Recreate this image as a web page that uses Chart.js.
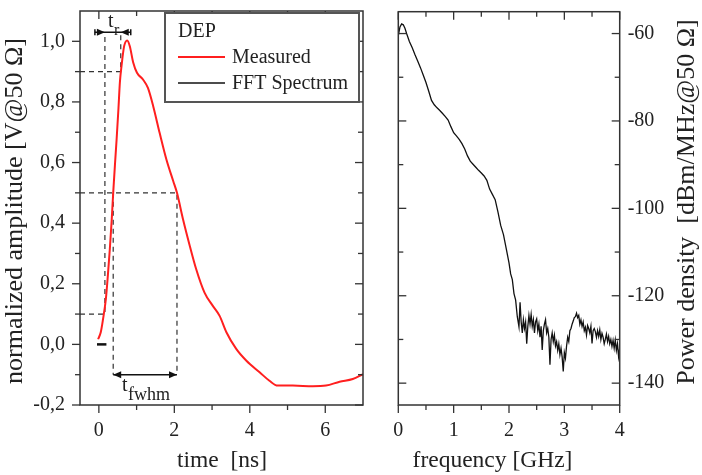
<!DOCTYPE html>
<html>
<head>
<meta charset="utf-8">
<script src="https://cdn.jsdelivr.net/npm/chart.js@4.4.0/dist/chart.umd.min.js"></script>
<style>
html,body{margin:0;padding:0;background:#fff;}
#wrap{position:relative;width:702px;height:475px;}
canvas{position:absolute;top:0;}
#c1{left:0;}
#c2{left:372px;}
</style>
</head>
<body>
<div id="wrap">
<canvas id="c1" width="372" height="475"></canvas>
<canvas id="c2" width="330" height="475"></canvas>
</div>
<script>
// time domain pulse (left panel)
let timeNs    = [-0.02,0.05,0.11,0.185,0.24,0.29,0.34,0.38,0.43,0.47,0.52,0.556,0.60,0.67,0.75,0.82,0.91,1.01,1.17,1.30,1.44,1.61,1.79,1.97,2.07,2.23,2.41,2.58,2.80,3.02,3.20,3.38,3.64,3.91,4.26,4.52,4.74,5.14,5.67,6.02,6.38,6.73,7.00];
let amplitude = [0.017,0.04,0.083,0.149,0.23,0.314,0.41,0.50,0.60,0.676,0.78,0.863,0.918,0.984,1.003,0.984,0.93,0.896,0.874,0.846,0.786,0.698,0.61,0.539,0.50,0.413,0.325,0.248,0.171,0.127,0.094,0.04,-0.015,-0.054,-0.092,-0.12,-0.136,-0.136,-0.138,-0.136,-0.123,-0.114,-0.098];
let timeTicks = [0,2,4,6];
let timeMinor = [1,3,5];
let ampTicks  = [-0.2,0,0.2,0.4,0.6,0.8,1.0];
let ampMinor  = [-0.1,0.1,0.3,0.5,0.7,0.9];

// FFT spectrum (right panel)
let freqGHz = [0,0.03,0.06,0.09,0.12,0.15,0.20,0.25,0.30,0.35,0.40,0.45,0.50,0.55,0.60,0.65,0.70,0.75,0.80,0.85,0.90,0.95,1.00,1.05,1.10,1.15,1.20,1.25,1.30,1.35,1.40,1.45,1.50,1.55,1.60,1.65,1.70,1.75,1.80,1.85,1.90,1.95,2.00,2.03,2.06,2.09,2.12,2.15,2.18,
  2.20,2.22,2.24,2.26,2.28,2.30,2.32,2.34,2.36,2.38,2.40,2.42,2.44,2.46,2.48,2.50,2.52,2.54,2.56,2.58,2.60,2.62,2.64,2.66,2.68,2.70,2.72,2.74,2.76,2.78,2.80,2.82,2.84,2.86,2.88,2.90,2.92,2.94,2.96,2.98,3.00,3.02,3.04,3.06,3.08,3.10,3.12,3.14,3.16,3.18,3.20,3.22,3.24,3.26,3.28,3.30,3.32,3.34,3.36,3.38,3.40,3.42,3.44,3.46,3.48,3.50,3.52,3.54,3.56,3.58,3.60,3.62,3.64,3.66,3.68,3.70,3.72,3.74,3.76,3.78,3.80,3.82,3.84,3.86,3.88,3.90,3.92,3.94,3.96,3.98,4.00];
let powerDb = [-60.5,-58.5,-57.8,-58.0,-58.8,-60.0,-61.8,-63.2,-64.8,-66.3,-67.8,-69.5,-71.2,-73.2,-75.3,-76.3,-77.0,-77.6,-78.3,-79.0,-79.8,-81.3,-82.7,-83.4,-84.2,-85.2,-86.4,-88.0,-89.2,-89.9,-90.6,-91.3,-91.9,-92.6,-93.6,-95.6,-96.8,-98.0,-100.8,-103.9,-106.0,-109.2,-112.5,-115.0,-116.3,-119.5,-121.0,-124.8,-127.1,
  -121.5,-126.0,-128.5,-125.5,-127.5,-126.0,-131.0,-127.0,-124.5,-126.5,-124.3,-127.0,-125.5,-128.5,-126.0,-125.3,-128.0,-126.5,-129.5,-127.0,-132.4,-128.0,-126.5,-125.5,-128.5,-127.5,-129.5,-135.8,-130.0,-128.5,-130.5,-129.0,-131.5,-130.5,-132.5,-131.0,-133.5,-132.0,-134.0,-137.3,-133.0,-134.3,-131.5,-129.5,-130.5,-128.0,-127.5,-126.5,-125.8,-125.0,-124.8,-124.0,-125.0,-124.5,-126.5,-125.5,-127.0,-126.0,-128.0,-127.2,-129.0,-126.8,-127.5,-128.5,-127.0,-130.9,-128.0,-127.5,-128.2,-129.5,-128.0,-129.3,-127.8,-130.0,-128.6,-129.5,-131.0,-130.0,-128.8,-130.5,-129.3,-131.0,-130.0,-131.6,-130.2,-132.0,-130.1,-132.5,-131.0,-133.9,-132.0];
let freqTicks  = [0,1,2,3,4];
let freqMinor  = [0.5,1.5,2.5,3.5];
let powerTicks = [-140,-120,-100,-80,-60];
let powerMinor = [-130,-110,-90,-70];

// rise time and fwhm markers
let riseLevels = [0.1, 0.9];
let riseTimes  = [0.16, 0.58];
let halfLevel  = 0.5;
let fwhmTimes  = [0.38, 2.07];
let arrowLevels = [1.03, -0.1];
let zeroMark = [-0.05, 0.2];

let legendTitle = 'DEP';
let legendNames = ['Measured', 'FFT Spectrum'];
let redColor = '#ff1f1f';
let fftColor = '#111';

const FONT = '"Liberation Serif","Times New Roman",serif';

function line(ctx, x1, y1, x2, y2){
    ctx.beginPath(); ctx.moveTo(x1, y1); ctx.lineTo(x2, y2); ctx.stroke();
}

// box + ticks on all four sides
const framePlugin = {
    id: 'frame',
    afterDatasetsDraw(chart, args, o){
        const ctx = chart.ctx, a = chart.chartArea;
        const xs = chart.scales.x, ys = chart.scales.y;
        ctx.save();
        ctx.strokeStyle = '#333';
        ctx.lineWidth = 1.5;
        ctx.strokeRect(a.left, a.top, a.right - a.left, a.bottom - a.top);
        ctx.lineWidth = 1.3;
        const doX = (vals, len) => vals.forEach(v => {
            let x = xs.getPixelForValue(v);
            line(ctx, x, a.bottom, x, a.bottom + len);
            line(ctx, x, a.top, x, a.top + len);
        });
        const doY = (vals, len) => vals.forEach(v => {
            let y = ys.getPixelForValue(v);
            if (o.leftOut) line(ctx, a.left - len, y, a.left, y);
            else line(ctx, a.left, y, a.left + len, y);
            line(ctx, a.right - len, y, a.right, y);
        });
        doX(o.xMajor, 8); doX(o.xMinor, 5);
        doY(o.yMajor, 8); doY(o.yMinor, 5);
        ctx.restore();
    }
};

// axis titles
const titlePlugin = {
    id: 'titles',
    afterDraw(chart, args, o){
        const ctx = chart.ctx;
        ctx.save();
        ctx.fillStyle = '#222';
        ctx.textAlign = 'center';
        ctx.textBaseline = 'middle';
        o.items.forEach(t => {
            ctx.save();
            ctx.font = t.size + 'px ' + FONT;
            ctx.translate(t.x, t.y);
            if (t.rot) ctx.rotate(t.rot);
            ctx.fillText(t.text, 0, 0);
            ctx.restore();
        });
        ctx.restore();
    }
};

const legendPlugin = {
    id: 'boxLegend',
    afterDraw(chart, args, o){
        const ctx = chart.ctx;
        ctx.save();
        ctx.fillStyle = '#fff';
        ctx.fillRect(o.x, o.y, o.w, o.h);
        ctx.strokeStyle = '#555';
        ctx.lineWidth = 2;
        ctx.strokeRect(o.x, o.y, o.w, o.h);
        ctx.font = '20px ' + FONT;
        ctx.fillStyle = '#222';
        ctx.textBaseline = 'middle';
        ctx.fillText(legendTitle, o.x + 13, o.y + 19);
        let cols = [redColor, fftColor];
        legendNames.forEach((n, i) => {
            let y = o.y + 44 + i * 26;
            ctx.strokeStyle = cols[i];
            ctx.lineWidth = i == 0 ? 2 : 1.6;
            line(ctx, o.x + 13, y, o.x + 60, y);
            ctx.fillText(n, o.x + 67, y + 1);
        });
        ctx.restore();
    }
};

// arrows + t_r / t_fwhm labels
const markerPlugin = {
    id: 'markers',
    afterDatasetsDraw(chart){
        const ctx = chart.ctx, xs = chart.scales.x, ys = chart.scales.y;
        const head = (x, y, dir) => {
            ctx.beginPath();
            ctx.moveTo(x, y);
            ctx.lineTo(x - dir * 8, y - 3.5);
            ctx.lineTo(x - dir * 8, y + 3.5);
            ctx.closePath();
            ctx.fill();
        };
        ctx.save();
        ctx.strokeStyle = '#111';
        ctx.fillStyle = '#111';
        ctx.lineWidth = 1.5;
        let yr = ys.getPixelForValue(arrowLevels[0]);
        let r0 = xs.getPixelForValue(riseTimes[0]), r1 = xs.getPixelForValue(riseTimes[1]);
        line(ctx, r0 - 10, yr, r1 + 10, yr);
        head(r0, yr, 1); head(r1, yr, -1);
        line(ctx, r0 - 10, yr - 3, r0 - 10, yr + 3);
        line(ctx, r1 + 10, yr - 3, r1 + 10, yr + 3);
        let yf = ys.getPixelForValue(arrowLevels[1]);
        let f0 = xs.getPixelForValue(fwhmTimes[0]), f1 = xs.getPixelForValue(fwhmTimes[1]);
        line(ctx, f0, yf, f1, yf);
        head(f0, yf, -1); head(f1, yf, 1);

        ctx.fillStyle = '#222';
        ctx.textBaseline = 'alphabetic';
        let tx = xs.getPixelForValue(0.24), ty = ys.getPixelForValue(1.048);
        ctx.font = '20px ' + FONT;
        ctx.fillText('t', tx, ty);
        ctx.font = '16px ' + FONT;
        ctx.fillText('r', tx + 6, ty + 8);
        tx = xs.getPixelForValue(0.61); ty = ys.getPixelForValue(-0.154);
        ctx.font = '20px ' + FONT;
        ctx.fillText('t', tx, ty);
        ctx.font = '18px ' + FONT;
        ctx.fillText('fwhm', tx + 6, ty + 9);
        ctx.restore();
    }
};

function xy(xa, ya){ return xa.map((v, i) => ({x: v, y: ya[i]})); }
function dashed(points){
    return {data: points, borderColor: '#333', borderWidth: 1.2, borderDash: [5, 4], pointRadius: 0};
}
function fixTicks(list){ return s => { s.ticks = list.map(v => ({value: v})); }; }
function fitX(s){ s.height = 70; s.paddingLeft = 0; s.paddingRight = 0; }
function fitY(w){ return s => { s.width = w; s.paddingTop = 0; s.paddingBottom = 0; }; }
const tickFont = {family: FONT, size: 20};

// left: measured pulse
new Chart(document.getElementById('c1'), {
    type: 'line',
    data: {
        datasets: [
            {label: 'Measured', data: xy(timeNs, amplitude), borderColor: redColor, borderWidth: 2, pointRadius: 0, cubicInterpolationMode: 'monotone'},
            {data: [{x: zeroMark[0], y: 0}, {x: zeroMark[1], y: 0}], borderColor: '#111', borderWidth: 2.5, pointRadius: 0},
            dashed([{x: -0.5, y: riseLevels[0]}, {x: riseTimes[0], y: riseLevels[0]}, {x: riseTimes[0], y: arrowLevels[0]}]),
            dashed([{x: -0.5, y: riseLevels[1]}, {x: riseTimes[1], y: riseLevels[1]}, {x: riseTimes[1], y: arrowLevels[0]}]),
            dashed([{x: -0.5, y: halfLevel}, {x: fwhmTimes[1], y: halfLevel}, {x: fwhmTimes[1], y: arrowLevels[1]}]),
            dashed([{x: fwhmTimes[0], y: halfLevel}, {x: fwhmTimes[0], y: arrowLevels[1]}])
        ]
    },
    options: {
        responsive: false,
        animation: false,
        layout: {padding: {top: 11, right: 9, left: 0, bottom: 0}},
        plugins: {
            legend: {display: false},
            tooltip: {enabled: false},
            frame: {xMajor: timeTicks, xMinor: timeMinor, yMajor: ampTicks, yMinor: ampMinor, leftOut: true},
            titles: {items: [
                {text: 'normalized amplitude [V@50 Ω]', x: 15, y: 211, rot: -Math.PI / 2, size: 26},
                {text: 'time  [ns]', x: 222, y: 461, size: 23.5}
            ]},
            boxLegend: {x: 165, y: 13, w: 194, h: 89}
        },
        scales: {
            x: {
                type: 'linear', min: -0.5, max: 7,
                afterBuildTicks: fixTicks(timeTicks),
                afterFit: fitX,
                grid: {display: false, drawTicks: false}, border: {display: false},
                ticks: {font: tickFont, color: '#222', padding: 14, maxRotation: 0}
            },
            y: {
                min: -0.2, max: 1.1,
                afterBuildTicks: fixTicks(ampTicks),
                afterFit: fitY(80),
                grid: {display: false, drawTicks: false}, border: {display: false},
                ticks: {font: tickFont, color: '#222', padding: 15, callback: v => v.toFixed(1).replace('.', ',')}
            }
        }
    },
    plugins: [framePlugin, markerPlugin, legendPlugin, titlePlugin]
});

// right: FFT spectrum
new Chart(document.getElementById('c2'), {
    type: 'line',
    data: {
        datasets: [
            {label: 'FFT Spectrum', data: xy(freqGHz, powerDb), borderColor: fftColor, borderWidth: 1.3, pointRadius: 0}
        ]
    },
    options: {
        responsive: false,
        animation: false,
        layout: {padding: {top: 11.7, right: 0, left: 26.3, bottom: 0}},
        plugins: {
            legend: {display: false},
            tooltip: {enabled: false},
            frame: {xMajor: freqTicks, xMinor: freqMinor, yMajor: powerTicks, yMinor: powerMinor, leftOut: false},
            titles: {items: [
                {text: 'frequency [GHz]', x: 120.5, y: 461, size: 23.5},
                {text: 'Power density  [dBm/MHz@50 Ω]', x: 315, y: 202, rot: -Math.PI / 2, size: 26}
            ]}
        },
        scales: {
            x: {
                type: 'linear', min: 0, max: 4,
                afterBuildTicks: fixTicks(freqTicks),
                afterFit: fitX,
                grid: {display: false, drawTicks: false}, border: {display: false},
                ticks: {font: tickFont, color: '#222', padding: 14, maxRotation: 0}
            },
            y: {
                position: 'right', min: -145, max: -55,
                afterBuildTicks: fixTicks(powerTicks),
                afterFit: fitY(82.3),
                grid: {display: false, drawTicks: false}, border: {display: false},
                ticks: {font: tickFont, color: '#222', padding: 8}
            }
        }
    },
    plugins: [framePlugin, titlePlugin]
});
</script>
</body>
</html>
